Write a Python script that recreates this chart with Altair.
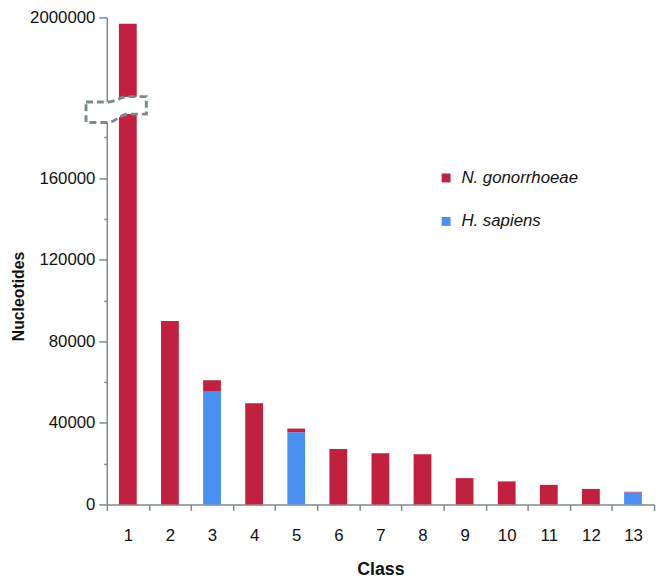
import altair as alt
import pandas as pd

classes = [str(i) for i in range(1, 14)]
ng_values = [1988000, 90000, 5600, 49600, 1800, 27200, 25100, 24600, 12900, 11300, 9600, 7600, 300]
hs_values = [0, 0, 55300, 0, 35400, 0, 0, 0, 0, 0, 0, 0, 5900]
species = ["N. gonorrhoeae", "H. sapiens"]
colors = ["#C1213F", "#4A90F0"]
y_ticks = [0, 20000, 40000, 60000, 80000, 100000, 120000, 140000, 160000, 180000, 2000000]
# broken axis: lower part 0..186000, upper part 1850000..2000000
y_domain = [0, 186000, 1850000, 2000000]

rows = []
for c, ng, hs in zip(classes, ng_values, hs_values):
    rows.append({"Class": c, "Species": "H. sapiens", "Nucleotides": hs, "ord": 0})
    rows.append({"Class": c, "Species": "N. gonorrhoeae", "Nucleotides": ng, "ord": 1})
df = pd.DataFrame(rows)

FONT = "Liberation Sans"
GRAY = "#7b8a8c"
H = 499

bars = alt.Chart(df).mark_bar(width=18).encode(
    x=alt.X("Class:N", sort=classes,
            scale=alt.Scale(paddingInner=0, paddingOuter=0),
            axis=alt.Axis(title="Class", labelAngle=0, tickBand="extent",
                          tickSize=6, tickWidth=1.5, tickColor=GRAY,
                          domainColor=GRAY, domainWidth=1.5,
                          labelFontSize=17, labelPadding=18, labelColor="#111",
                          labelFont=FONT, titleFont=FONT, titleFontSize=18,
                          titleFontWeight="bold", titleBaseline="alphabetic",
                          titleY=71, titleColor="#111")),
    y=alt.Y("Nucleotides:Q", stack="zero",
            scale=alt.Scale(domain=y_domain, range=[H, 115, 86, 6], nice=False, zero=False),
            axis=alt.Axis(title="Nucleotides", values=y_ticks, format="d",
                          labelExpr="datum.value % 40000 === 0 ? datum.label : ''",
                          tickSize={"condition": {"test": "datum.value % 40000 === 0", "value": 8}, "value": 3},
                          tickColor={"condition": {"test": "datum.value === 2000000", "value": "#4A90F0"}, "value": GRAY},
                          tickWidth=1.5, domainColor=GRAY, domainWidth=1.5,
                          labelFontSize=17, labelPadding=4, labelColor="#111",
                          labelFont=FONT, titleFont=FONT, titleFontSize=16,
                          titleFontWeight="bold", titleBaseline="middle",
                          titleX=-89, titleY=288, titleColor="#111", grid=False)),
    color=alt.Color("Species:N", scale=alt.Scale(domain=species, range=colors),
                    legend=alt.Legend(title=None, orient="none", legendX=335, legendY=160,
                                      symbolType="square", symbolSize=81, symbolStrokeWidth=0,
                                      labelFontSize=17, labelFontStyle="italic", labelFont=FONT,
                                      labelColor="#111", labelOffset=7, rowPadding=26)),
    order=alt.Order("ord:Q"),
)

break_path = ("M -1 -0.24 L -0.3 -0.24 C 0 -0.24 0.1 -0.42 0.4 -0.42 L 1 -0.42 "
              "L 1 0.16 L 0.4 0.16 C 0.1 0.16 0 0.44 -0.3 0.44 L -1 0.44 Z")
brk = alt.Chart(pd.DataFrame({"k": [0]})).mark_point(
    shape=break_path, size=3721, filled=True, fill="white", fillOpacity=1,
    stroke=GRAY, strokeWidth=3, strokeDash=[7, 4], opacity=1
).encode(x=alt.value(9.5), y=alt.value(99))

chart = alt.layer(bars, brk).properties(
    width=554, height=H,
    autosize=alt.AutoSizeParams(type="none"),
    padding={"left": 100, "top": 0, "right": 4, "bottom": 76},
).configure_view(stroke=None)

chart.save("out.html", embed_options={"renderer": "svg", "actions": False})
